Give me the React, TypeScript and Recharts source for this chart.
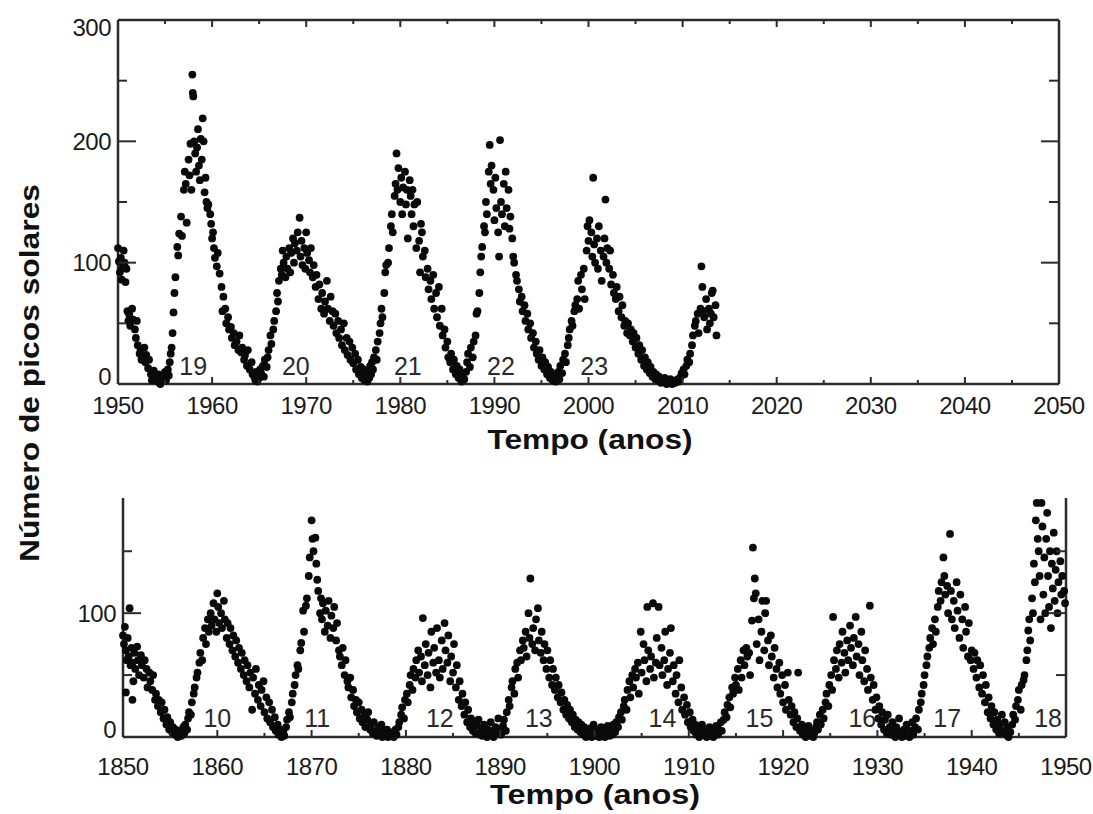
import { ScatterChart, Scatter, XAxis, YAxis } from "recharts"

// [year, sunspot number], grouped by solar cycle
const cycle18end = [
  [1950.0, 112], [1950.1, 101], [1950.2, 92], [1950.3, 104], [1950.4, 86], [1950.5, 96], [1950.6, 110], [1950.7, 100],
  [1950.8, 84], [1950.9, 95], [1951.0, 60], [1951.1, 52], [1951.2, 57], [1951.3, 48], [1951.5, 62], [1951.6, 53],
  [1951.8, 45], [1951.9, 38], [1952.0, 52], [1952.1, 32], [1952.3, 25], [1952.4, 28], [1952.5, 20], [1952.6, 22],
  [1952.8, 30], [1952.9, 18], [1953.0, 24], [1953.2, 13], [1953.3, 20], [1953.5, 8], [1953.6, 3], [1953.8, 11],
  [1954.0, 5], [1954.2, 2], [1954.3, 8], [1954.5, 0], [1954.6, 4], [1954.8, 6], [1955.0, 10], [1955.1, 3],
  [1955.3, 12], [1955.4, 7],
]

const cycle19 = [
  [1955.5, 18], [1955.6, 25], [1955.7, 30], [1955.8, 42], [1955.9, 59], [1956.0, 75], [1956.1, 88], [1956.3, 113],
  [1956.4, 106], [1956.5, 124], [1956.7, 138], [1956.8, 122], [1957.0, 160], [1957.1, 175], [1957.2, 165], [1957.3, 133],
  [1957.5, 185], [1957.6, 172], [1957.7, 198], [1957.8, 160], [1957.9, 255], [1957.95, 240], [1958.0, 237], [1958.1, 200],
  [1958.2, 190], [1958.3, 175], [1958.4, 195], [1958.5, 210], [1958.6, 180], [1958.7, 168], [1958.8, 202], [1958.9, 185],
  [1959.0, 219], [1959.1, 200], [1959.2, 158], [1959.3, 170], [1959.4, 150], [1959.5, 145], [1959.6, 148], [1959.8, 140],
  [1959.9, 132], [1960.0, 120], [1960.1, 125], [1960.2, 112], [1960.3, 104], [1960.5, 97], [1960.6, 108], [1960.8, 91],
  [1961.0, 80], [1961.1, 60], [1961.2, 72], [1961.4, 62], [1961.5, 50], [1961.7, 55], [1961.8, 45], [1962.0, 47],
  [1962.1, 38], [1962.3, 42], [1962.4, 32], [1962.6, 35], [1962.8, 28], [1962.9, 40], [1963.1, 26], [1963.2, 30],
  [1963.4, 20], [1963.5, 24], [1963.7, 15], [1963.8, 28], [1964.0, 12], [1964.2, 18], [1964.3, 8], [1964.5, 6],
]

const cycle20 = [
  [1964.6, 3], [1964.7, 10], [1964.8, 2], [1964.9, 7], [1965.0, 5], [1965.1, 12], [1965.2, 9], [1965.4, 15],
  [1965.5, 6], [1965.6, 20], [1965.8, 14], [1965.9, 22], [1966.0, 28], [1966.2, 40], [1966.3, 33], [1966.5, 45],
  [1966.6, 52], [1966.8, 60], [1966.9, 75], [1967.0, 68], [1967.1, 85], [1967.3, 95], [1967.4, 90], [1967.5, 110],
  [1967.6, 100], [1967.8, 88], [1967.9, 105], [1968.0, 95], [1968.2, 112], [1968.3, 92], [1968.4, 108], [1968.6, 120],
  [1968.7, 100], [1968.8, 116], [1969.0, 110], [1969.1, 125], [1969.3, 137], [1969.4, 105], [1969.5, 118], [1969.6, 98],
  [1969.8, 112], [1969.9, 95], [1970.0, 125], [1970.1, 108], [1970.3, 102], [1970.4, 92], [1970.5, 112], [1970.7, 88],
  [1970.8, 98], [1971.0, 80], [1971.1, 90], [1971.3, 70], [1971.4, 82], [1971.6, 62], [1971.7, 75], [1971.9, 58],
  [1972.0, 68], [1972.2, 85], [1972.3, 62], [1972.5, 52], [1972.6, 72], [1972.8, 60], [1972.9, 48], [1973.1, 58],
  [1973.2, 42], [1973.4, 52], [1973.5, 38], [1973.7, 45], [1973.8, 32], [1974.0, 50], [1974.1, 28], [1974.3, 38],
  [1974.4, 24], [1974.6, 35], [1974.7, 20], [1974.9, 30], [1975.0, 17], [1975.2, 25], [1975.3, 12], [1975.5, 20],
  [1975.6, 8], [1975.8, 14], [1975.9, 5], [1976.1, 12], [1976.2, 3], [1976.4, 9],
]

const cycle21 = [
  [1976.5, 2], [1976.6, 10], [1976.7, 5], [1976.8, 15], [1976.9, 8], [1977.0, 18], [1977.1, 12], [1977.2, 22],
  [1977.4, 28], [1977.5, 20], [1977.6, 35], [1977.8, 42], [1977.9, 50], [1978.0, 62], [1978.1, 55], [1978.3, 75],
  [1978.4, 92], [1978.5, 98], [1978.7, 100], [1978.8, 112], [1979.0, 130], [1979.1, 140], [1979.2, 125], [1979.4, 155],
  [1979.5, 165], [1979.6, 190], [1979.7, 160], [1979.8, 178], [1980.0, 150], [1980.1, 170], [1980.2, 140], [1980.3, 162],
  [1980.5, 175], [1980.6, 148], [1980.7, 160], [1980.8, 120], [1981.0, 168], [1981.1, 155], [1981.2, 140], [1981.3, 160],
  [1981.4, 130], [1981.5, 148], [1981.7, 112], [1981.8, 150], [1982.0, 118], [1982.1, 92], [1982.2, 132], [1982.3, 125],
  [1982.4, 105], [1982.6, 110], [1982.7, 88], [1982.9, 95], [1983.0, 78], [1983.2, 85], [1983.3, 70], [1983.5, 90],
  [1983.6, 62], [1983.8, 75], [1983.9, 55], [1984.1, 80], [1984.2, 48], [1984.4, 62], [1984.5, 40], [1984.7, 45],
  [1984.8, 30], [1985.0, 35], [1985.1, 22], [1985.3, 18], [1985.4, 25], [1985.6, 12], [1985.7, 20], [1985.9, 8],
  [1986.0, 15], [1986.2, 5], [1986.3, 12], [1986.5, 2], [1986.6, 8],
]

const cycle22 = [
  [1986.8, 4], [1987.0, 10], [1987.1, 18], [1987.2, 25], [1987.4, 14], [1987.5, 30], [1987.7, 22], [1987.8, 35],
  [1988.0, 40], [1988.1, 58], [1988.2, 60], [1988.4, 75], [1988.5, 92], [1988.6, 105], [1988.7, 113], [1988.9, 130],
  [1989.0, 125], [1989.1, 150], [1989.2, 140], [1989.4, 175], [1989.5, 197], [1989.6, 165], [1989.7, 180], [1989.9, 160],
  [1990.0, 135], [1990.1, 170], [1990.2, 145], [1990.4, 125], [1990.5, 105], [1990.6, 201], [1990.7, 150], [1990.8, 140],
  [1991.0, 165], [1991.1, 130], [1991.2, 175], [1991.3, 145], [1991.5, 160], [1991.6, 128], [1991.7, 138], [1991.9, 120],
  [1992.0, 105], [1992.1, 100], [1992.3, 90], [1992.4, 85], [1992.6, 78], [1992.7, 68], [1992.9, 72], [1993.0, 60],
  [1993.2, 65], [1993.3, 52], [1993.5, 58], [1993.6, 45], [1993.8, 50], [1993.9, 38], [1994.1, 42], [1994.2, 30],
  [1994.4, 35], [1994.5, 25], [1994.7, 20], [1994.8, 28], [1995.0, 15], [1995.1, 22], [1995.3, 12], [1995.4, 18],
  [1995.6, 8], [1995.7, 14], [1995.9, 5], [1996.0, 10], [1996.2, 3], [1996.3, 8], [1996.5, 2],
]

const cycle23 = [
  [1996.6, 6], [1996.8, 10], [1996.9, 4], [1997.0, 15], [1997.2, 9], [1997.3, 20], [1997.5, 25], [1997.6, 18],
  [1997.8, 32], [1997.9, 38], [1998.0, 45], [1998.2, 52], [1998.3, 48], [1998.5, 60], [1998.6, 65], [1998.8, 70],
  [1998.9, 85], [1999.0, 62], [1999.2, 90], [1999.3, 78], [1999.5, 95], [1999.6, 70], [1999.8, 110], [1999.9, 130],
  [2000.0, 118], [2000.1, 135], [2000.3, 125], [2000.4, 105], [2000.5, 170], [2000.6, 115], [2000.7, 100], [2000.9, 120],
  [2001.0, 95], [2001.1, 130], [2001.3, 110], [2001.4, 85], [2001.6, 105], [2001.7, 120], [2001.8, 152], [2001.9, 100],
  [2002.0, 112], [2002.2, 95], [2002.3, 110], [2002.4, 82], [2002.6, 90], [2002.7, 75], [2002.9, 70], [2003.0, 80],
  [2003.2, 60], [2003.3, 72], [2003.5, 55], [2003.6, 65], [2003.8, 48], [2003.9, 52], [2004.1, 42], [2004.2, 50],
  [2004.4, 40], [2004.5, 45], [2004.7, 35], [2004.8, 42], [2005.0, 30], [2005.1, 38], [2005.3, 25], [2005.4, 32],
  [2005.6, 20], [2005.7, 28], [2005.9, 15], [2006.0, 22], [2006.2, 12], [2006.3, 18], [2006.5, 9], [2006.6, 14],
  [2006.8, 6], [2006.9, 10], [2007.1, 4], [2007.2, 8], [2007.4, 3], [2007.5, 6], [2007.7, 1], [2007.8, 4],
  [2008.0, 2], [2008.1, 5], [2008.3, 0], [2008.4, 3], [2008.6, 1], [2008.7, 4], [2008.9, 0],
]

const cycle24 = [
  [2009.0, 2], [2009.2, 1], [2009.3, 3], [2009.5, 4], [2009.6, 2], [2009.8, 6], [2009.9, 9], [2010.1, 12],
  [2010.2, 8], [2010.4, 15], [2010.5, 20], [2010.7, 18], [2010.8, 25], [2011.0, 32], [2011.1, 40], [2011.3, 48],
  [2011.4, 52], [2011.6, 58], [2011.7, 42], [2011.9, 62], [2012.0, 97], [2012.1, 80], [2012.2, 60], [2012.3, 55],
  [2012.5, 70], [2012.6, 45], [2012.8, 62], [2012.9, 50], [2013.0, 58], [2013.1, 75], [2013.2, 77], [2013.3, 55],
  [2013.5, 65], [2013.6, 40],
]

const cycle9end = [
  [1850.0, 82], [1850.1, 75], [1850.2, 89], [1850.3, 70], [1850.3, 36], [1850.4, 62], [1850.5, 80], [1850.6, 65],
  [1850.7, 104], [1850.8, 58], [1850.9, 72], [1851.0, 60], [1851.0, 30], [1851.1, 45], [1851.2, 68], [1851.3, 55],
  [1851.5, 73], [1851.6, 62], [1851.7, 50], [1851.9, 66], [1852.0, 58], [1852.2, 48], [1852.3, 62], [1852.5, 55],
  [1852.6, 40], [1852.8, 52], [1852.9, 45], [1853.1, 38], [1853.2, 50], [1853.4, 30], [1853.5, 35], [1853.7, 25],
  [1853.8, 30], [1854.0, 20], [1854.1, 28], [1854.3, 15], [1854.4, 22], [1854.6, 10], [1854.7, 16], [1854.9, 6],
  [1855.0, 12], [1855.2, 4], [1855.3, 8], [1855.5, 2], [1855.6, 6], [1855.8, 0], [1855.9, 3], [1856.1, 5],
  [1856.2, 1], [1856.4, 8],
]

const cycle10 = [
  [1856.5, 3], [1856.6, 10], [1856.8, 6], [1856.9, 15], [1857.0, 20], [1857.2, 18], [1857.3, 28], [1857.5, 35],
  [1857.6, 40], [1857.8, 48], [1857.9, 52], [1858.1, 60], [1858.2, 68], [1858.4, 62], [1858.5, 80], [1858.7, 88],
  [1858.8, 75], [1859.0, 95], [1859.1, 85], [1859.3, 100], [1859.4, 90], [1859.6, 108], [1859.7, 95], [1859.9, 85],
  [1860.0, 116], [1860.1, 105], [1860.2, 92], [1860.4, 100], [1860.5, 88], [1860.7, 110], [1860.8, 95], [1861.0, 80],
  [1861.1, 92], [1861.3, 75], [1861.4, 88], [1861.6, 70], [1861.7, 82], [1861.9, 65], [1862.0, 78], [1862.2, 60],
  [1862.3, 72], [1862.5, 55], [1862.6, 68], [1862.8, 50], [1862.9, 62], [1863.1, 45], [1863.2, 58], [1863.4, 40],
  [1863.5, 52], [1863.7, 22], [1863.8, 48], [1864.0, 35], [1864.1, 55], [1864.3, 30], [1864.4, 42], [1864.6, 25],
  [1864.7, 38], [1864.9, 45], [1865.0, 20], [1865.2, 32], [1865.3, 15], [1865.5, 28], [1865.6, 12], [1865.8, 22],
  [1865.9, 8], [1866.1, 16], [1866.2, 5], [1866.4, 10], [1866.5, 2], [1866.7, 6], [1866.8, 0], [1867.0, 4],
  [1867.1, 1],
]

const cycle11 = [
  [1867.3, 8], [1867.4, 14], [1867.6, 20], [1867.7, 16], [1867.9, 28], [1868.0, 35], [1868.2, 42], [1868.3, 50],
  [1868.5, 58], [1868.6, 55], [1868.8, 70], [1868.9, 76], [1869.1, 102], [1869.2, 85], [1869.4, 106], [1869.5, 112],
  [1869.7, 130], [1869.8, 145], [1870.0, 175], [1870.1, 160], [1870.2, 150], [1870.4, 161], [1870.5, 140], [1870.6, 127],
  [1870.7, 118], [1870.9, 100], [1871.0, 112], [1871.1, 95], [1871.2, 108], [1871.4, 85], [1871.5, 102], [1871.7, 90],
  [1871.8, 110], [1872.0, 80], [1872.1, 98], [1872.3, 88], [1872.4, 105], [1872.6, 78], [1872.7, 92], [1872.9, 70],
  [1873.0, 65], [1873.2, 58], [1873.3, 72], [1873.5, 50], [1873.6, 62], [1873.8, 45], [1873.9, 40], [1874.1, 48],
  [1874.2, 32], [1874.4, 38], [1874.5, 25], [1874.7, 30], [1874.8, 20], [1875.0, 28], [1875.1, 15], [1875.3, 22],
  [1875.4, 12], [1875.6, 18], [1875.7, 8], [1875.9, 14], [1876.0, 20], [1876.2, 6], [1876.3, 10], [1876.5, 3],
  [1876.6, 12], [1876.8, 5], [1876.9, 1], [1877.1, 8], [1877.2, 3], [1877.4, 10], [1877.5, 0], [1877.7, 5],
  [1877.8, 2], [1878.0, 6], [1878.1, 0], [1878.3, 3], [1878.4, 1], [1878.6, 4], [1878.7, 0], [1878.9, 6],
  [1879.0, 2], [1879.2, 8], [1879.3, 12],
]

const cycle12 = [
  [1879.5, 18], [1879.6, 24], [1879.8, 15], [1879.9, 30], [1880.1, 35], [1880.2, 28], [1880.4, 42], [1880.5, 50],
  [1880.7, 38], [1880.8, 55], [1881.0, 48], [1881.1, 62], [1881.3, 70], [1881.4, 52], [1881.6, 65], [1881.7, 45],
  [1881.8, 96], [1882.0, 58], [1882.1, 75], [1882.3, 50], [1882.4, 68], [1882.6, 40], [1882.7, 85], [1882.9, 60],
  [1883.0, 72], [1883.2, 52], [1883.3, 88], [1883.5, 62], [1883.6, 48], [1883.8, 78], [1883.9, 55], [1884.1, 92],
  [1884.2, 70], [1884.4, 60], [1884.5, 82], [1884.7, 45], [1884.8, 65], [1885.0, 52], [1885.1, 75], [1885.3, 40],
  [1885.4, 58], [1885.6, 30], [1885.7, 45], [1885.9, 25], [1886.0, 35], [1886.2, 18], [1886.3, 28], [1886.5, 12],
  [1886.6, 22], [1886.8, 8], [1886.9, 15], [1887.1, 5], [1887.2, 12], [1887.4, 3], [1887.5, 9], [1887.7, 14],
  [1887.8, 2], [1888.0, 7], [1888.1, 1], [1888.3, 10], [1888.4, 4], [1888.6, 0], [1888.7, 6], [1888.9, 2],
  [1889.0, 12], [1889.2, 5], [1889.3, 0], [1889.5, 8], [1889.6, 3], [1889.8, 15], [1889.9, 6],
]

const cycle13 = [
  [1890.1, 2], [1890.3, 9], [1890.4, 14], [1890.6, 5], [1890.7, 20], [1890.9, 30], [1891.0, 25], [1891.2, 40],
  [1891.3, 45], [1891.5, 35], [1891.6, 55], [1891.8, 60], [1891.9, 48], [1892.1, 70], [1892.2, 62], [1892.4, 78],
  [1892.5, 72], [1892.7, 85], [1892.8, 65], [1893.0, 100], [1893.1, 80], [1893.2, 128], [1893.4, 75], [1893.5, 88],
  [1893.7, 70], [1893.8, 95], [1894.0, 104], [1894.1, 78], [1894.3, 68], [1894.4, 85], [1894.6, 62], [1894.7, 75],
  [1894.9, 55], [1895.0, 70], [1895.2, 48], [1895.3, 62], [1895.5, 42], [1895.6, 55], [1895.8, 38], [1895.9, 48],
  [1896.1, 32], [1896.2, 42], [1896.4, 28], [1896.5, 36], [1896.7, 22], [1896.8, 30], [1897.0, 18], [1897.1, 26],
  [1897.3, 15], [1897.4, 22], [1897.6, 12], [1897.7, 18], [1897.9, 8], [1898.0, 14], [1898.2, 6], [1898.3, 12],
  [1898.5, 4], [1898.6, 10], [1898.8, 2], [1898.9, 8], [1899.1, 0], [1899.2, 5], [1899.4, 2], [1899.5, 7],
  [1899.7, 0], [1899.8, 4], [1899.9, 10], [1900.1, 1], [1900.2, 6], [1900.4, 3], [1900.5, 0], [1900.7, 8],
  [1900.8, 2], [1901.0, 5], [1901.1, 0], [1901.3, 3], [1901.4, 9], [1901.6, 1],
]

const cycle14 = [
  [1901.7, 6], [1901.9, 2], [1902.0, 10], [1902.2, 4], [1902.3, 12], [1902.5, 8], [1902.6, 16], [1902.8, 20],
  [1902.9, 14], [1903.1, 25], [1903.2, 30], [1903.4, 22], [1903.5, 38], [1903.7, 45], [1903.8, 32], [1904.0, 50],
  [1904.1, 40], [1904.3, 55], [1904.4, 48], [1904.6, 60], [1904.7, 35], [1904.9, 85], [1905.0, 52], [1905.2, 75],
  [1905.3, 62], [1905.5, 45], [1905.6, 105], [1905.7, 70], [1905.9, 55], [1906.0, 65], [1906.2, 108], [1906.3, 48],
  [1906.5, 60], [1906.6, 80], [1906.8, 105], [1906.9, 58], [1907.1, 72], [1907.2, 50], [1907.4, 62], [1907.5, 85],
  [1907.7, 42], [1907.8, 55], [1908.0, 68], [1908.1, 88], [1908.3, 45], [1908.4, 58], [1908.6, 35], [1908.7, 50],
  [1908.9, 28], [1909.0, 62], [1909.2, 40], [1909.3, 22], [1909.5, 32], [1909.6, 18], [1909.8, 26], [1909.9, 12],
  [1910.1, 20], [1910.2, 8], [1910.4, 14], [1910.5, 5], [1910.7, 10], [1910.8, 2], [1911.0, 7], [1911.1, 0],
  [1911.3, 4], [1911.4, 10], [1911.6, 2], [1911.7, 6], [1911.9, 0], [1912.0, 3], [1912.2, 8], [1912.3, 1],
  [1912.5, 5], [1912.6, 0], [1912.8, 3], [1912.9, 9], [1913.1, 2], [1913.2, 6], [1913.4, 12],
]

const cycle15 = [
  [1913.5, 5], [1913.7, 14], [1913.8, 20], [1914.0, 16], [1914.1, 26], [1914.3, 32], [1914.4, 24], [1914.6, 40],
  [1914.7, 35], [1914.9, 48], [1915.0, 42], [1915.2, 55], [1915.3, 38], [1915.5, 62], [1915.6, 48], [1915.8, 70],
  [1915.9, 58], [1916.1, 72], [1916.2, 65], [1916.4, 68], [1916.5, 50], [1916.7, 94], [1916.8, 153], [1916.9, 112],
  [1917.0, 128], [1917.1, 116], [1917.2, 75], [1917.4, 95], [1917.5, 62], [1917.7, 85], [1917.8, 110], [1918.0, 70],
  [1918.1, 100], [1918.2, 110], [1918.4, 78], [1918.5, 58], [1918.7, 82], [1918.8, 65], [1919.0, 48], [1919.1, 72],
  [1919.3, 55], [1919.4, 40], [1919.6, 60], [1919.7, 35], [1919.9, 50], [1920.0, 28], [1920.2, 42], [1920.3, 22],
  [1920.5, 52], [1920.6, 30], [1920.8, 18], [1920.9, 25], [1921.1, 12], [1921.2, 20], [1921.4, 8], [1921.5, 15],
  [1921.6, 52], [1921.8, 5], [1922.0, 10], [1922.1, 2], [1922.3, 7], [1922.4, 0], [1922.6, 4], [1922.7, 9],
  [1922.9, 1], [1923.0, 5], [1923.2, 0], [1923.3, 3], [1923.5, 8],
]

const cycle16 = [
  [1923.6, 12], [1923.7, 6], [1923.9, 18], [1924.0, 10], [1924.2, 22], [1924.3, 15], [1924.5, 28], [1924.6, 35],
  [1924.8, 25], [1924.9, 42], [1925.1, 50], [1925.2, 38], [1925.3, 97], [1925.4, 62], [1925.6, 55], [1925.7, 70],
  [1925.9, 48], [1926.0, 75], [1926.2, 60], [1926.3, 85], [1926.5, 68], [1926.6, 52], [1926.8, 78], [1926.9, 62],
  [1927.1, 90], [1927.2, 72], [1927.4, 58], [1927.5, 80], [1927.7, 97], [1927.8, 65], [1928.0, 75], [1928.1, 50],
  [1928.3, 85], [1928.4, 62], [1928.6, 45], [1928.7, 70], [1928.9, 55], [1929.0, 38], [1929.2, 106], [1929.3, 48],
  [1929.5, 30], [1929.6, 42], [1929.8, 22], [1929.9, 32], [1930.1, 15], [1930.2, 25], [1930.4, 10], [1930.5, 20],
  [1930.7, 6], [1930.8, 14], [1931.0, 3], [1931.1, 18], [1931.3, 8], [1931.4, 2], [1931.6, 12], [1931.7, 5],
  [1931.9, 0], [1932.0, 8], [1932.2, 2], [1932.3, 15], [1932.5, 4], [1932.6, 0], [1932.8, 6], [1932.9, 1],
  [1933.1, 10], [1933.2, 3], [1933.4, 0], [1933.5, 5], [1933.7, 12],
]

const cycle17 = [
  [1933.8, 2], [1934.0, 8], [1934.1, 15], [1934.3, 6], [1934.4, 22], [1934.6, 28], [1934.7, 35], [1934.9, 42],
  [1935.0, 50], [1935.2, 58], [1935.3, 65], [1935.5, 72], [1935.6, 80], [1935.8, 88], [1935.9, 75], [1936.1, 95],
  [1936.2, 85], [1936.4, 105], [1936.5, 118], [1936.7, 110], [1936.8, 125], [1937.0, 145], [1937.1, 130], [1937.2, 115],
  [1937.4, 122], [1937.5, 100], [1937.7, 164], [1937.8, 118], [1937.9, 95], [1938.1, 110], [1938.2, 88], [1938.4, 125],
  [1938.5, 102], [1938.7, 80], [1938.8, 115], [1939.0, 95], [1939.1, 72], [1939.3, 105], [1939.4, 85], [1939.6, 65],
  [1939.7, 92], [1939.9, 62], [1940.0, 70], [1940.2, 55], [1940.3, 68], [1940.5, 48], [1940.6, 62], [1940.8, 40],
  [1940.9, 58], [1941.1, 35], [1941.2, 50], [1941.4, 28], [1941.5, 42], [1941.7, 20], [1941.8, 32], [1942.0, 15],
  [1942.1, 25], [1942.3, 10], [1942.4, 20], [1942.6, 6], [1942.7, 14], [1942.9, 3], [1943.0, 10], [1943.2, 18],
  [1943.3, 5], [1943.5, 12], [1943.6, 2], [1943.8, 8], [1943.9, 0], [1944.1, 4],
]

const cycle18start = [
  [1944.3, 10], [1944.4, 18], [1944.6, 14], [1944.7, 25], [1944.9, 30], [1945.0, 38], [1945.2, 22], [1945.3, 42],
  [1945.5, 46], [1945.6, 50], [1945.8, 62], [1945.9, 70], [1946.0, 86], [1946.1, 95], [1946.2, 78], [1946.4, 112],
  [1946.5, 100], [1946.6, 140], [1946.7, 125], [1946.8, 175], [1946.9, 189], [1947.0, 160], [1947.1, 150], [1947.2, 130],
  [1947.3, 95], [1947.4, 189], [1947.5, 170], [1947.6, 115], [1947.7, 145], [1947.8, 100], [1947.9, 160], [1948.0, 181],
  [1948.1, 130], [1948.2, 105], [1948.3, 150], [1948.4, 88], [1948.5, 140], [1948.6, 120], [1948.7, 165], [1948.8, 110],
  [1948.9, 135], [1949.0, 150], [1949.1, 100], [1949.2, 125], [1949.4, 142], [1949.5, 115], [1949.6, 130], [1949.8, 118],
  [1949.9, 108],
]

const recentCycleLabels = [
  { label: "19", year: 1958.0, value: 15 },
  { label: "20", year: 1968.9, value: 15 },
  { label: "21", year: 1980.8, value: 15 },
  { label: "22", year: 1990.7, value: 15 },
  { label: "23", year: 2000.6, value: 15 },
]

const olderCycleLabels = [
  { label: "10", year: 1860.0, value: 15 },
  { label: "11", year: 1870.6, value: 15 },
  { label: "12", year: 1883.6, value: 15 },
  { label: "13", year: 1894.1, value: 15 },
  { label: "14", year: 1907.2, value: 15 },
  { label: "15", year: 1917.5, value: 15 },
  { label: "16", year: 1928.4, value: 15 },
  { label: "17", year: 1937.4, value: 15 },
  { label: "18", year: 1948.1, value: 15 },
]

const topXTicks = [1950, 1955, 1960, 1965, 1970, 1975, 1980, 1985, 1990, 1995, 2000, 2005, 2010, 2015, 2020, 2025, 2030, 2035, 2040, 2045, 2050]
const topYTicks = [0, 50, 100, 150, 200, 250, 300]
const bottomXTicks = [1850, 1855, 1860, 1865, 1870, 1875, 1880, 1885, 1890, 1895, 1900, 1905, 1910, 1915, 1920, 1925, 1930, 1935, 1940, 1945, 1950]
const bottomYTicks = [0, 50, 100, 150]

const xTitle = "Tempo (anos)"
const yTitle = "Número de picos solares"

const toPoints = (rows: number[][]) => rows.map(([year, value]) => ({ year, value }))

const recentPoints = toPoints([...cycle18end, ...cycle19, ...cycle20, ...cycle21, ...cycle22, ...cycle23, ...cycle24])
const olderPoints = toPoints([
  ...cycle9end, ...cycle10, ...cycle11, ...cycle12, ...cycle13, ...cycle14, ...cycle15, ...cycle16, ...cycle17, ...cycle18start,
])

const INK = "#2b2b2b"
const TICK_FONT = "'Liberation Sans', Arial, sans-serif"

const Dot = (props: any) => <circle cx={props.cx} cy={props.cy} r={3.9} fill="#0a0a0a" />
const NoDot = () => <g />

const CycleLabel = (props: any) => (
  <text
    x={props.cx}
    y={props.cy}
    textAnchor="middle"
    dominantBaseline="central"
    fontSize={25}
    fontFamily={TICK_FONT}
    fill="#2a2a2a"
  >
    {props.payload?.label}
  </text>
)

// ticks are drawn inward, labels every 10 years
const BottomTick = (props: any) => {
  const { x, y, payload, labelGap } = props
  const major = payload.value % 10 === 0
  return (
    <g>
      <line x1={x} y1={y} x2={x} y2={y - (major ? 7 : 4)} stroke={INK} strokeWidth={2} />
      {major && (
        <text x={x} y={y + labelGap} textAnchor="middle" fontSize={24} fontFamily={TICK_FONT} fill="#1a1a1a" letterSpacing={-0.5}>
          {payload.value}
        </text>
      )}
    </g>
  )
}

const TopTick = (props: any) => {
  const { x, y, payload } = props
  const major = payload.value % 10 === 0
  return <line x1={x} y1={y} x2={x} y2={y + (major ? 7 : 4)} stroke={INK} strokeWidth={2} />
}

const LeftTick = (props: any) => {
  const { x, y, payload, maxValue } = props
  const major = payload.value % 100 === 0
  let dy = 0
  if (payload.value === 0) dy = -8
  if (payload.value === maxValue) dy = 7
  return (
    <g>
      <line x1={x} y1={y} x2={x + (major ? 18 : 9)} y2={y} stroke={INK} strokeWidth={2} />
      {major && (
        <text x={x - 7} y={y + dy} textAnchor="end" dominantBaseline="central" fontSize={24} fontFamily={TICK_FONT} fill="#1a1a1a" letterSpacing={-0.5}>
          {payload.value}
        </text>
      )}
    </g>
  )
}

const RightTick = (props: any) => {
  const { x, y, payload } = props
  const major = payload.value % 100 === 0
  return <line x1={x} y1={y} x2={x - (major ? 18 : 10)} y2={y} stroke={INK} strokeWidth={2} />
}

const axisLine = { stroke: INK, strokeWidth: 2.5 }

export default function App() {
  return (
    <div style={{ position: "absolute", left: 0, top: 0, width: 1093, height: 814, background: "#fff", overflow: "hidden" }}>
      {/* 1950 - 2050 */}
      <div style={{ position: "absolute", left: 0, top: 0 }}>
        <ScatterChart width={1093} height={420} margin={{ top: 19, right: 33, bottom: 0, left: 58 }}>
          <XAxis
            dataKey="year"
            type="number"
            domain={[1950, 2050]}
            ticks={topXTicks}
            interval={0}
            height={36}
            tickSize={0}
            tickMargin={0}
            tickLine={false}
            axisLine={axisLine}
            tick={(p: any) => <BottomTick {...p} labelGap={30} />}
          />
          <XAxis
            xAxisId="t"
            orientation="top"
            dataKey="year"
            type="number"
            domain={[1950, 2050]}
            ticks={topXTicks}
            interval={0}
            height={1}
            tickSize={0}
            tickMargin={0}
            tickLine={false}
            axisLine={axisLine}
            tick={(p: any) => <TopTick {...p} />}
          />
          <YAxis
            dataKey="value"
            type="number"
            domain={[0, 300]}
            ticks={topYTicks}
            interval={0}
            width={60}
            tickSize={0}
            tickMargin={0}
            tickLine={false}
            axisLine={axisLine}
            tick={(p: any) => <LeftTick {...p} maxValue={300} />}
          />
          <YAxis
            yAxisId="r"
            orientation="right"
            dataKey="value"
            type="number"
            domain={[0, 300]}
            ticks={topYTicks}
            interval={0}
            width={1}
            tickSize={0}
            tickMargin={0}
            tickLine={false}
            axisLine={axisLine}
            tick={(p: any) => <RightTick {...p} />}
          />
          <Scatter data={recentCycleLabels} dataKey="value" shape={CycleLabel} isAnimationActive={false} />
          <Scatter data={recentPoints} dataKey="value" shape={Dot} isAnimationActive={false} />
          {/* binds the top and right frame axes so their ticks are laid out */}
          <Scatter data={recentPoints} dataKey="value" xAxisId="t" yAxisId="r" shape={NoDot} isAnimationActive={false} />
        </ScatterChart>
      </div>

      {/* 1850 - 1950 */}
      <div style={{ position: "absolute", left: 0, top: 470 }}>
        <ScatterChart width={1093} height={344} margin={{ top: 28, right: 26, bottom: 41, left: 63 }}>
          <XAxis
            dataKey="year"
            type="number"
            domain={[1850, 1950]}
            ticks={bottomXTicks}
            interval={0}
            height={36}
            tickSize={0}
            tickMargin={0}
            tickLine={false}
            axisLine={axisLine}
            tick={(p: any) => <BottomTick {...p} labelGap={38} />}
          />
          <YAxis
            dataKey="value"
            type="number"
            domain={[0, 193]}
            ticks={bottomYTicks}
            interval={0}
            width={60}
            tickSize={0}
            tickMargin={0}
            tickLine={false}
            axisLine={axisLine}
            tick={(p: any) => <LeftTick {...p} maxValue={-1} />}
          />
          <YAxis
            yAxisId="r"
            orientation="right"
            dataKey="value"
            type="number"
            domain={[0, 193]}
            ticks={bottomYTicks}
            interval={0}
            width={1}
            tickSize={0}
            tickMargin={0}
            tickLine={false}
            axisLine={axisLine}
            tick={(p: any) => <RightTick {...p} />}
          />
          <Scatter data={olderCycleLabels} dataKey="value" shape={CycleLabel} isAnimationActive={false} />
          <Scatter data={olderPoints} dataKey="value" shape={Dot} isAnimationActive={false} />
          <Scatter data={olderPoints} dataKey="value" yAxisId="r" shape={NoDot} isAnimationActive={false} />
        </ScatterChart>
      </div>

      <svg width={1093} height={814} style={{ position: "absolute", left: 0, top: 0, pointerEvents: "none" }}>
        <text
          transform="translate(39, 373) rotate(-90)"
          textAnchor="middle"
          fontSize={27}
          fontWeight="bold"
          fontFamily={TICK_FONT}
          fill="#111"
          textLength={378}
          lengthAdjust="spacingAndGlyphs"
        >
          {yTitle}
        </text>
        <text x={590} y={449} textAnchor="middle" fontSize={27} fontWeight="bold" fontFamily={TICK_FONT} fill="#111" textLength={205} lengthAdjust="spacingAndGlyphs">
          {xTitle}
        </text>
        <text x={595} y={804} textAnchor="middle" fontSize={27} fontWeight="bold" fontFamily={TICK_FONT} fill="#111" textLength={210} lengthAdjust="spacingAndGlyphs">
          {xTitle}
        </text>
      </svg>
    </div>
  )
}
